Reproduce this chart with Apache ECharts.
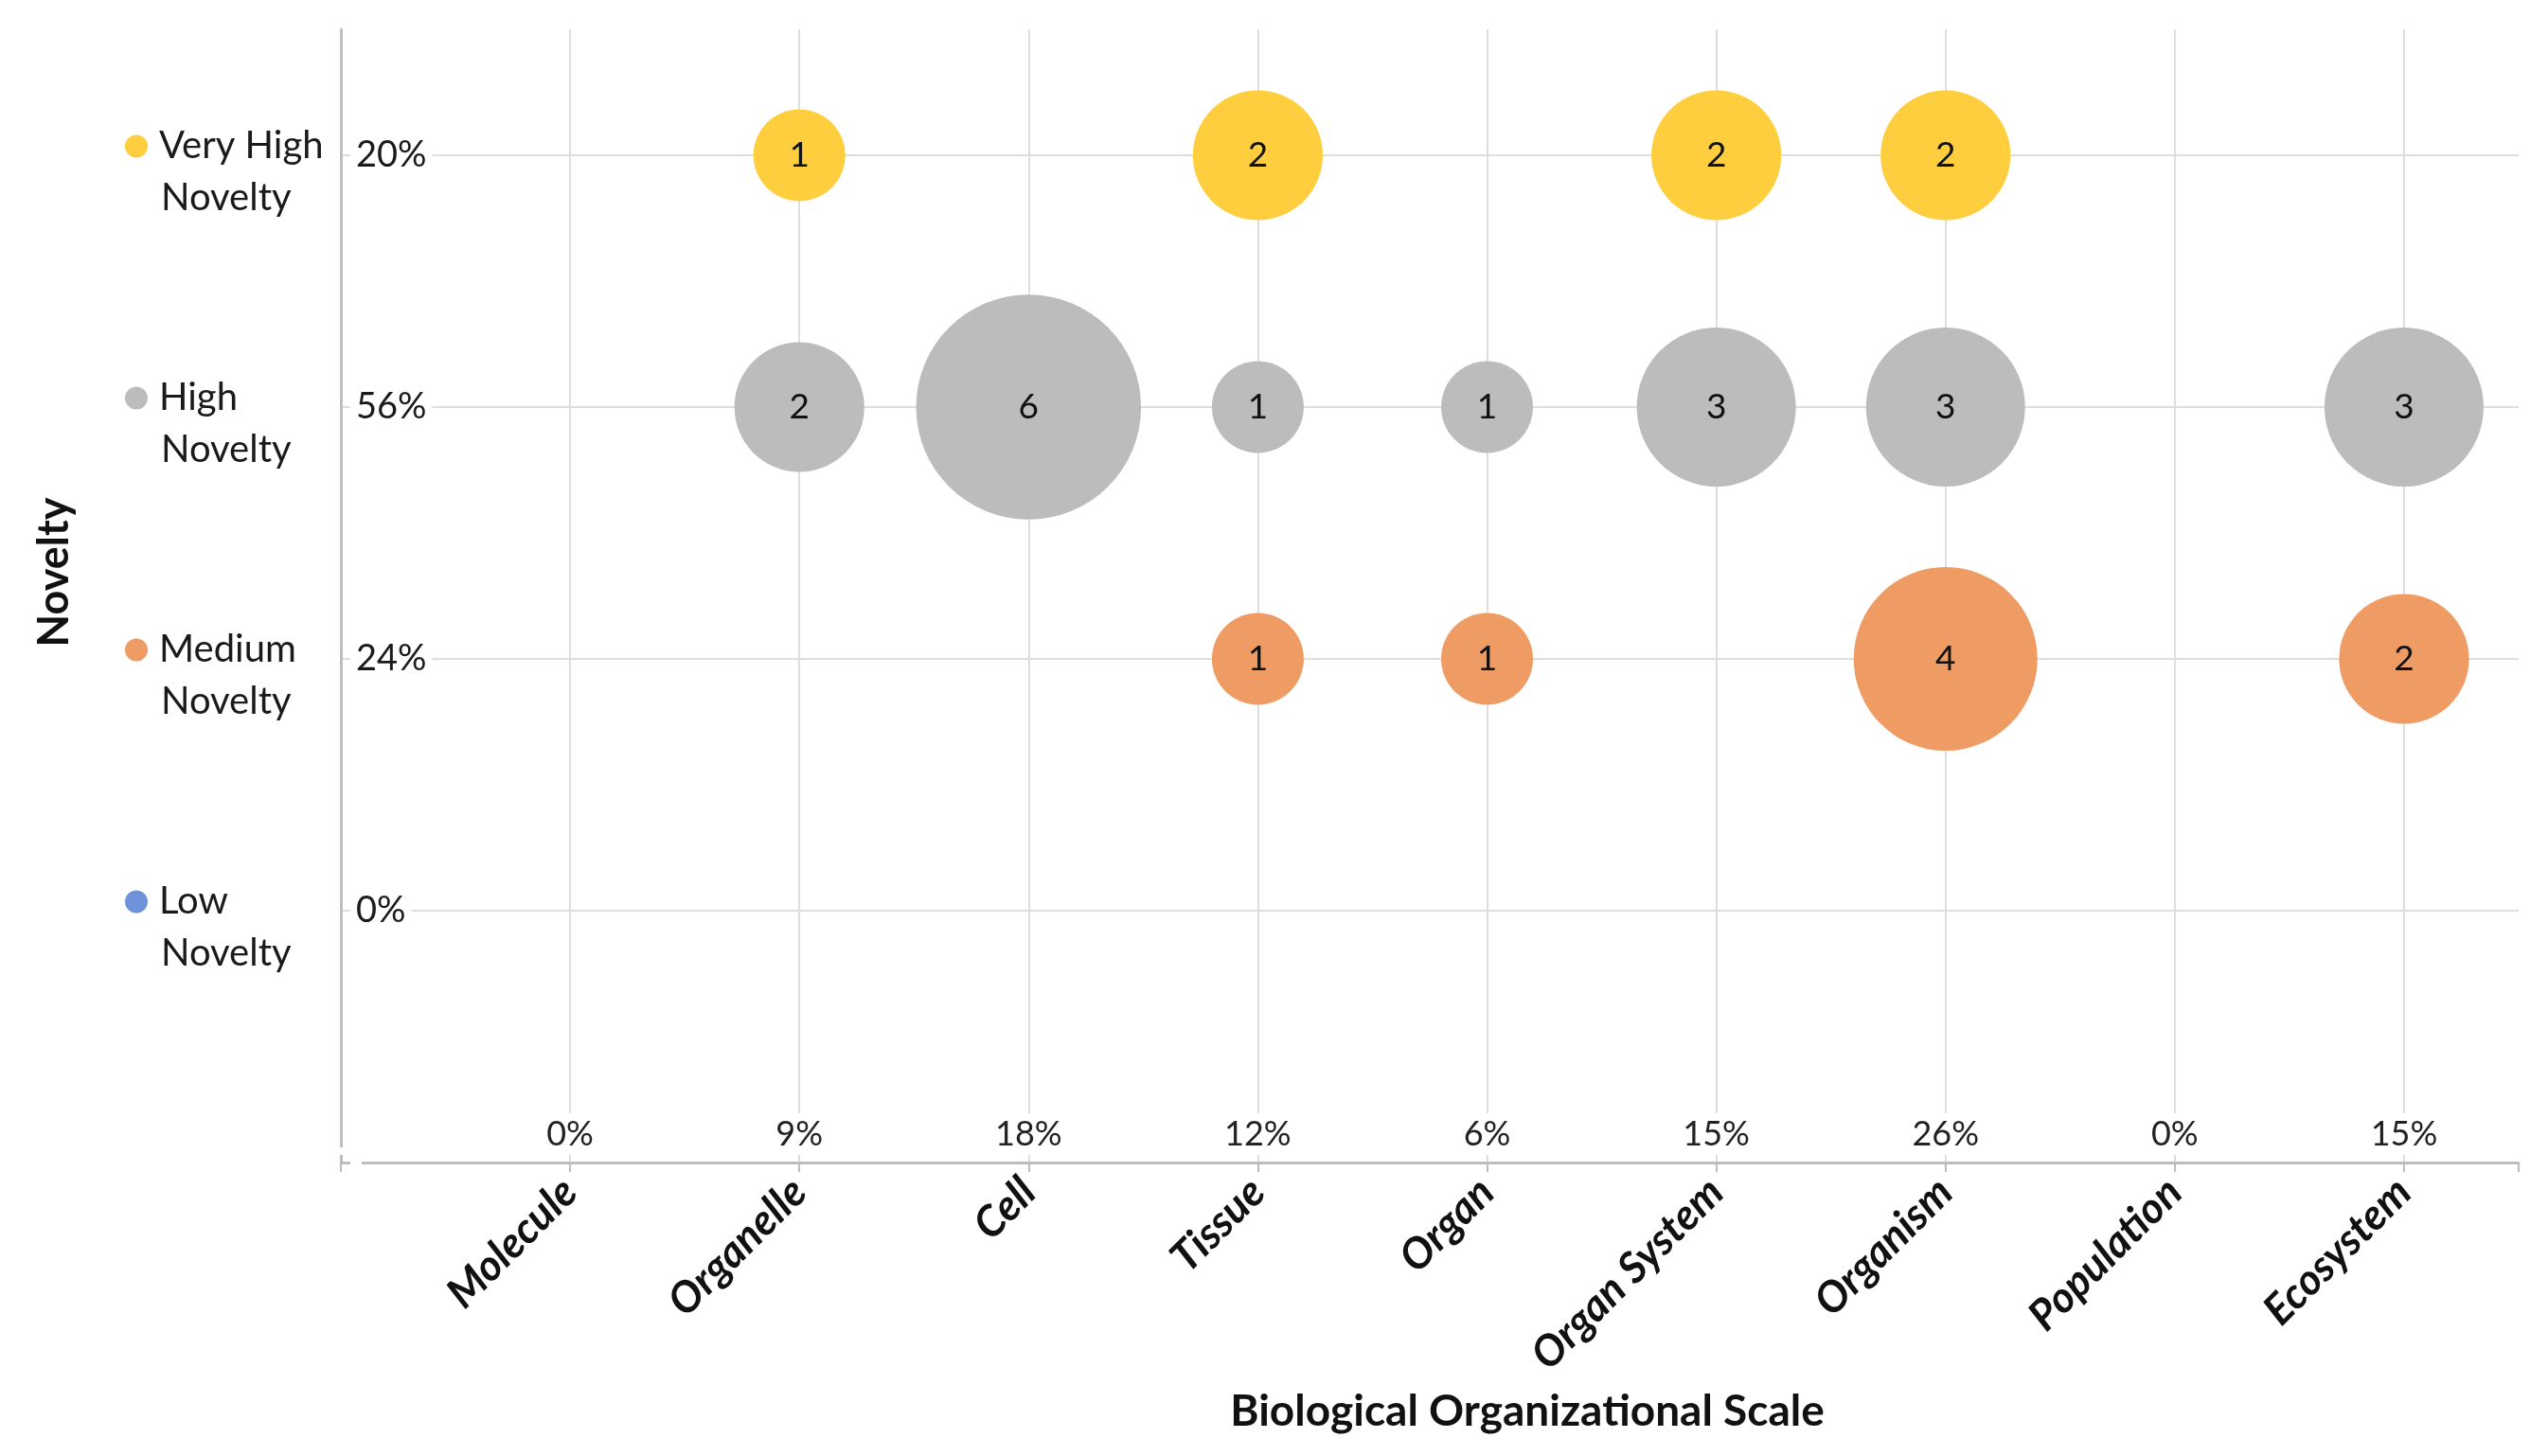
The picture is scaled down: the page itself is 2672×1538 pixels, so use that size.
<!DOCTYPE html>
<html>
<head>
<meta charset="utf-8">
<script src="https://cdn.jsdelivr.net/npm/echarts@6/dist/echarts.min.js"></script>
<style>
  html, body { margin: 0; padding: 0; background: #ffffff; }
  #chart { width: 2672px; height: 1538px; }
</style>
</head>
<body>
<div id="chart"></div>
<script>
// ---- data ----
var categories = ['Molecule', 'Organelle', 'Cell', 'Tissue', 'Organ', 'Organ System', 'Organism', 'Population', 'Ecosystem'];
var scaleShares = ['0%', '9%', '18%', '12%', '6%', '15%', '26%', '0%', '15%'];
var noveltyLevels = ['Low Novelty', 'Medium Novelty', 'High Novelty', 'Very High Novelty'];
var noveltyShares = ['0%', '24%', '56%', '20%'];
var lowCounts      = [0, 0, 0, 0, 0, 0, 0, 0, 0];
var mediumCounts   = [0, 0, 0, 1, 1, 0, 4, 0, 2];
var highCounts     = [0, 2, 6, 1, 1, 3, 3, 0, 3];
var veryHighCounts = [0, 1, 0, 2, 0, 2, 2, 0, 0];
var levelColors = ['#6E93DA', '#EF9C64', '#BCBCBC', '#FFCE3E'];

var FONT = 'Lato, "Noto Sans", sans-serif';

function toPoints(counts, level) {
  var out = [];
  counts.forEach(function (c, i) { if (c > 0) out.push([i + 1, level, c]); });
  return out;
}

var seriesCounts = [lowCounts, mediumCounts, highCounts, veryHighCounts];
var series = seriesCounts.map(function (counts, k) {
  return {
    name: noveltyLevels[k],
    type: 'scatter',
    xAxisIndex: 0,
    yAxisIndex: 0,
    data: toPoints(counts, k + 1),
    symbolSize: function (v) { return 97 * Math.sqrt(v[2]); },
    itemStyle: { color: levelColors[k], opacity: 1 },
    label: {
      show: true,
      position: 'inside',
      formatter: function (p) { return p.value[2]; },
      color: '#111',
      fontFamily: FONT,
      fontSize: 37
    },
    emphasis: { disabled: true }
  };
});

var richY = {
  t: { fontFamily: FONT, fontSize: 40, color: '#1a1a1a', lineHeight: 55 },
  gap: { width: 12, lineHeight: 55 },
  sp: { width: 38, lineHeight: 55 }
};
levelColors.forEach(function (c, i) {
  richY['d' + i] = { width: 24, height: 24, borderRadius: 12, backgroundColor: c, lineHeight: 55 };
});

var option = {
  backgroundColor: '#ffffff',
  animation: false,
  grid: { left: 360, right: 12, top: 31, bottom: 310, containLabel: false },
  xAxis: [
    {
      type: 'value', min: 0, max: 9.5, interval: 1,
      name: 'Biological Organizational Scale',
      nameLocation: 'middle', nameGap: 240,
      nameTextStyle: { fontFamily: FONT, fontWeight: 'bold', fontSize: 46, color: '#111', padding: [0, 0, 0, 206] },
      axisLine: { show: true, lineStyle: { color: '#bdbdbd', width: 3 } },
      axisTick: { show: true, length: 10, lineStyle: { color: '#bdbdbd', width: 2 } },
      splitLine: { show: true, showMinLine: false, showMaxLine: false, lineStyle: { color: '#dedede', width: 2 } },
      axisLabel: {
        rotate: 45, margin: 24,
        fontFamily: FONT, fontStyle: 'italic', fontWeight: 'bold', fontSize: 45, color: '#111',
        formatter: function (v) {
          var i = Math.round(v) - 1;
          return (v === Math.round(v) && i >= 0 && i < categories.length) ? categories[i] : '';
        }
      }
    },
    {
      type: 'value', min: 0, max: 9.5, interval: 1, position: 'bottom', z: 5,
      axisLine: { show: false }, axisTick: { show: false }, splitLine: { show: false },
      axisLabel: {
        inside: true, margin: 8,
        fontFamily: FONT, fontSize: 36, color: '#222',
        backgroundColor: '#ffffff', padding: [4, 4, 4, 4],
        formatter: function (v) {
          var i = Math.round(v) - 1;
          return (v === Math.round(v) && i >= 0 && i < scaleShares.length) ? scaleShares[i] : '';
        }
      }
    }
  ],
  yAxis: [
    {
      type: 'value', min: 0, max: 4.5, interval: 1,
      name: 'Novelty', nameLocation: 'middle', nameGap: 280, nameRotate: 90,
      nameTextStyle: { fontFamily: FONT, fontWeight: 'bold', fontSize: 45, color: '#111', padding: [0, 0, 0, 50] },
      axisLine: { show: true, lineStyle: { color: '#bdbdbd', width: 3 } },
      axisTick: { show: false },
      splitLine: { show: true, showMinLine: false, showMaxLine: false, lineStyle: { color: '#dedede', width: 2 } },
      axisLabel: {
        align: 'left', margin: 228, padding: [36, 0, 0, 0],
        rich: richY,
        formatter: function (v) {
          var i = Math.round(v) - 1;
          if (v !== Math.round(v) || i < 0 || i >= noveltyLevels.length) return '';
          var name = noveltyLevels[i];
          var cut = name.lastIndexOf(' ');
          return '{d' + i + '|}{gap|}{t|' + name.slice(0, cut) + '}\n{sp|}{t|' + name.slice(cut + 1) + '}';
        }
      }
    },
    {
      type: 'value', min: 0, max: 4.5, interval: 1, position: 'left', z: 5,
      axisLine: { show: false }, axisTick: { show: false }, splitLine: { show: false },
      axisLabel: {
        inside: true, margin: 10,
        fontFamily: FONT, fontSize: 38, color: '#1a1a1a',
        backgroundColor: '#ffffff', padding: [4, 6, 4, 6],
        formatter: function (v) {
          var i = Math.round(v) - 1;
          return (v === Math.round(v) && i >= 0 && i < noveltyShares.length) ? noveltyShares[i] : '';
        }
      }
    }
  ],
  series: series
};

var chart = echarts.init(document.getElementById('chart'), null, { renderer: 'canvas' });
chart.setOption(option);
</script>
</body>
</html>
